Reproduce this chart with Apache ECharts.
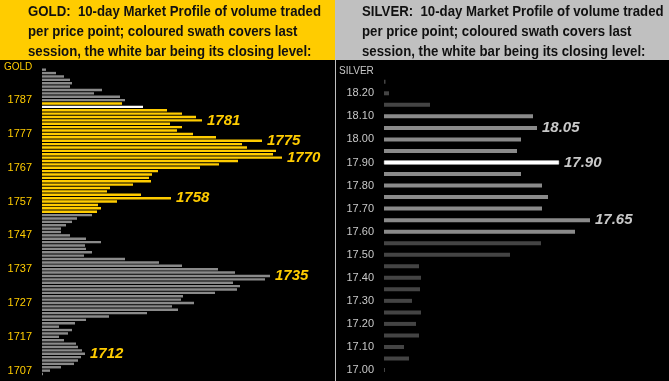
<!DOCTYPE html>
<html>
<head>
<meta charset="utf-8">
<script src="https://cdn.jsdelivr.net/npm/echarts@6/dist/echarts.min.js"></script>
<style>
html,body{margin:0;padding:0;background:#000;}
#c{width:669px;height:381px;}
</style>
</head>
<body>
<div id="c"></div>
<script>
// ---- GOLD: price points listed top (1796) to bottom (1706) ----
var goldTop = 1796, goldBottom = 1706;
var goldVolume = [4,14,22,28,30,28,60,52,78,83,
  80,101,125,140,154,160,128,140,135,151,
  174,220,200,205,234,231,240,196,177,158,
  116,110,107,109,91,68,65,99,129,75,
  56,59,55,50,35,30,24,19,19,28,
  44,59,43,44,50,42,83,117,140,176,
  193,228,223,191,198,195,173,141,139,152,
  130,136,105,67,44,33,17,30,26,17,
  22,34,36,40,43,39,36,32,19,8,1];
var goldSwathHigh = 1786, goldSwathLow = 1754;
var goldClose = 1785;
var goldLabelled = [1781,1775,1770,1758,1735,1712];

// ---- SILVER: price points listed top (18.25) to bottom (17.00) ----
var silverPrices = ['18.25','18.20','18.15','18.10','18.05','18.00','17.95','17.90','17.85','17.80',
  '17.75','17.70','17.65','17.60','17.55','17.50','17.45','17.40','17.35','17.30',
  '17.25','17.20','17.15','17.10','17.05','17.00'];
var silverVolume = [1.5,5,46,149,153,137,133,175,137,158,
  164,158,206,191,157,126,35,37,36,28,
  37,32,35,20,25,1];
var silverSwathHigh = 18.10, silverSwathLow = 17.60;
var silverClose = '17.90';
var silverLabelled = ['18.05','17.90','17.65'];

var goldHeader = ['GOLD:  10-day Market Profile of volume traded', 'per price point; coloured swath covers last', 'session, the white bar being its closing level:'];
var silverHeader = ['SILVER:  10-day Market Profile of volume traded', 'per price point; coloured swath covers last', 'session, the white bar being its closing level:'];

var YEL = '#FFCC00', GRAY = '#8a8a8a', DARK = '#444444', LGRAY = '#C8C8C8';

var goldCats = [], goldData = [];
for (var i = 0; i < goldVolume.length; i++) {
  var p = goldTop - i;
  var isClose = (p === goldClose);
  var col = isClose ? '#FFFFFF' : (p <= goldSwathHigh && p >= goldSwathLow ? YEL : GRAY);
  goldCats.unshift(String(p));
  goldData.unshift({value: goldVolume[i], itemStyle: {color: col},
    label: {show: goldLabelled.indexOf(p) >= 0}});
}
var silverCats = [], silverData = [];
for (var j = 0; j < silverPrices.length; j++) {
  var sp = silverPrices[j], sv = parseFloat(sp);
  var isSClose = (sp === silverClose);
  var scol = isSClose ? '#FFFFFF' : (sv <= silverSwathHigh + 1e-9 && sv >= silverSwathLow - 1e-9 ? GRAY : DARK);
  silverCats.unshift(sp);
  var it = {color: scol};
  if (isSClose) { it.borderColor = '#FFFFFF'; it.borderWidth = 0.6; }
  silverData.unshift({value: silverVolume[j], itemStyle: it,
    label: {show: silverLabelled.indexOf(sp) >= 0}});
}

var hdrFont = 'bold 15px "Liberation Sans", Arial, sans-serif';
var cv = document.createElement('canvas').getContext('2d');
cv.font = hdrFont;
var sx = 293 / cv.measureText(goldHeader[0]).width;

var lblFont = {fontFamily: '"Liberation Sans", Arial, sans-serif', fontWeight: 'bold', fontStyle: 'italic', fontSize: 15};

var chart = echarts.init(document.getElementById('c'), null, {renderer: 'canvas'});

chart.setOption({
  backgroundColor: '#000000',
  animation: false,
  graphic: [
    {type: 'rect', x: 0, y: 0, shape: {width: 335, height: 60}, style: {fill: YEL}, z: 0},
    {type: 'rect', x: 335, y: 0, shape: {width: 334, height: 60}, style: {fill: '#C0C0C0'}, z: 0},
    {type: 'line', shape: {x1: 335.5, y1: 60, x2: 335.5, y2: 381}, style: {stroke: '#C0C0C0', lineWidth: 1}, z: 1},
    {type: 'text', x: 28, y: 2, scaleX: sx, scaleY: 1, style: {text: goldHeader.join('\n'), font: hdrFont, fill: '#111', lineHeight: 20}, z: 2},
    {type: 'text', x: 362, y: 2, scaleX: sx, scaleY: 1, style: {text: silverHeader.join('\n'), font: hdrFont, fill: '#111', lineHeight: 20}, z: 2},
    {type: 'text', x: 4, y: 62, style: {text: 'GOLD', font: '10px "Liberation Sans", Arial, sans-serif', fill: YEL}, z: 2},
    {type: 'text', x: 339, y: 66, style: {text: 'SILVER', font: '10px "Liberation Sans", Arial, sans-serif', fill: LGRAY}, z: 2}
  ],
  grid: [
    {left: 42, top: 68, width: 290, bottom: 5.3},
    {left: 384, top: 76, width: 280, bottom: 5.2}
  ],
  xAxis: [
    {gridIndex: 0, type: 'value', min: 0, max: 290, show: false},
    {gridIndex: 1, type: 'value', min: 0, max: 280, show: false}
  ],
  yAxis: [
    {gridIndex: 0, type: 'category', data: goldCats,
      axisLine: {show: false}, axisTick: {show: false}, splitLine: {show: false},
      axisLabel: {color: YEL, fontSize: 11, fontFamily: '"Liberation Sans", Arial, sans-serif', margin: 10,
        interval: function (idx, val) { return (parseInt(val, 10) - 1707) % 10 === 0; }}},
    {gridIndex: 1, type: 'category', data: silverCats,
      axisLine: {show: false}, axisTick: {show: false}, splitLine: {show: false},
      axisLabel: {color: LGRAY, fontSize: 11, fontFamily: '"Liberation Sans", Arial, sans-serif', margin: 10,
        interval: function (idx, val) { return Math.round(parseFloat(val) * 100) % 10 === 0; }}}
  ],
  series: [
    {type: 'bar', xAxisIndex: 0, yAxisIndex: 0, data: goldData, barWidth: 2.4,
      label: Object.assign({position: 'right', distance: 5, color: YEL,
        formatter: function (p) { return p.name; }}, lblFont)},
    {type: 'bar', xAxisIndex: 1, yAxisIndex: 1, data: silverData, barWidth: 4,
      label: Object.assign({position: 'right', distance: 5, color: LGRAY,
        formatter: function (p) { return p.name; }}, lblFont)}
  ]
});
</script>
</body>
</html>
